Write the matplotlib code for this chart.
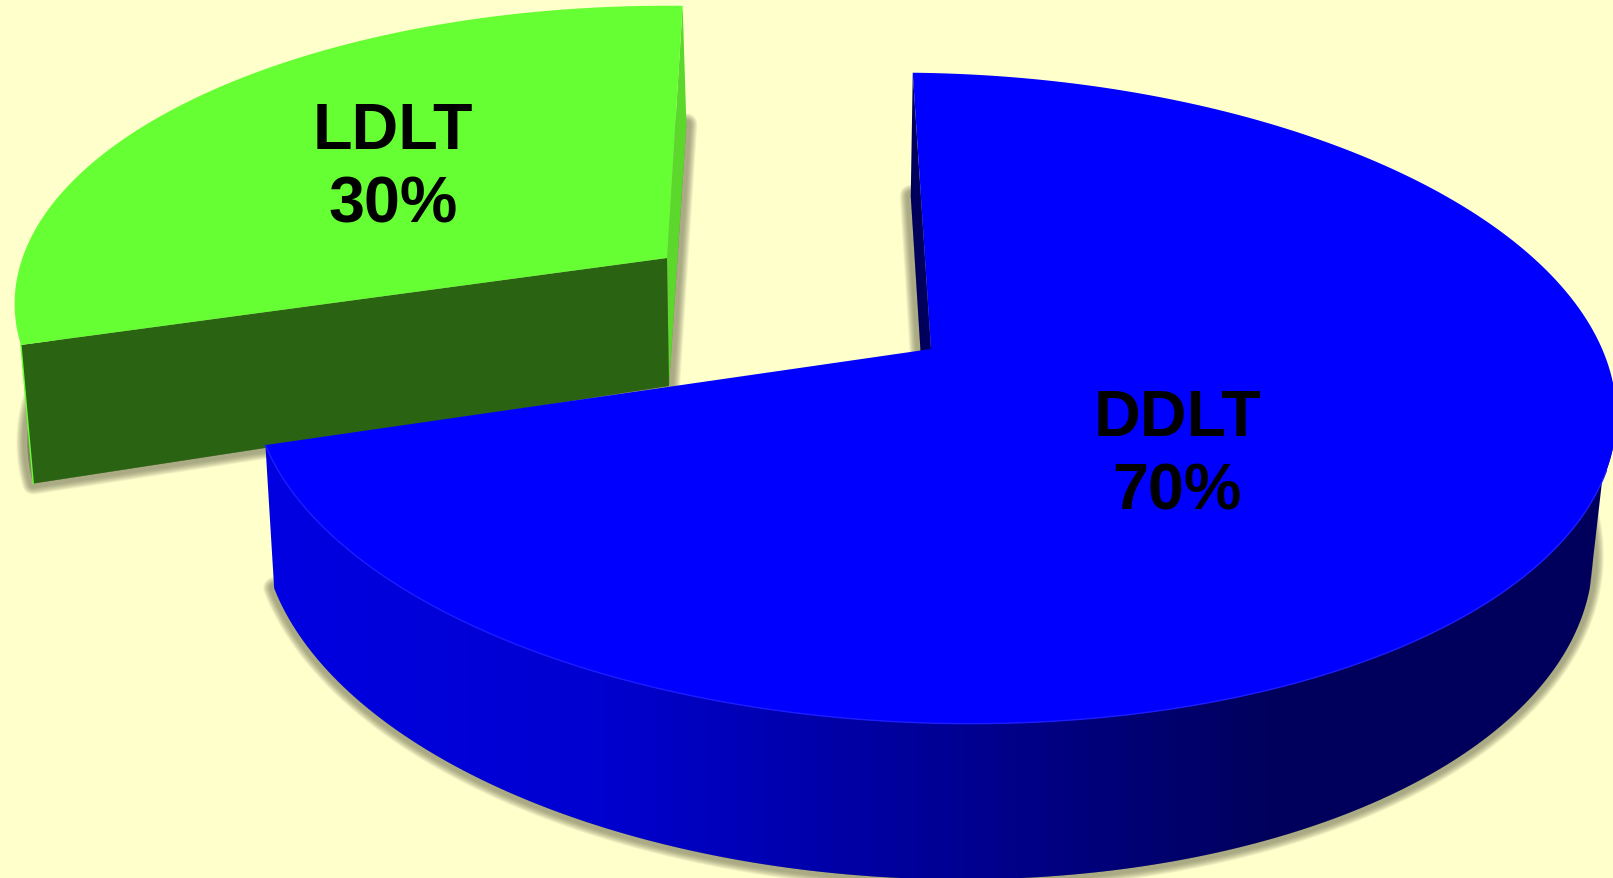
import numpy as np
import matplotlib
matplotlib.use("Agg")
import matplotlib.pyplot as plt
from matplotlib.colors import LinearSegmentedColormap
from matplotlib.patches import Polygon

labels = ["DDLT", "LDLT"]
shares = [70, 30]

W, H = 1613, 879
BG = "#ffffcc"
SHADOW = "#6e6e50"

# x0, y0, A, s, c, B, k, m of each projected disc
blue_top = (931, 350, 674, -21, 7, 318, 0.151, 0.0)
blue_bot = (929, 487, 658, -21, 7, 334, 0.151, 0.008)
green_top = (667, 259, 642, 18, 7, 290, 0.15, 0.0)
green_bot = (669, 387, 631, 20, 0, 301, 0.15, 0.0)


def rim(p, t0, t1, n=240):
    x0, y0, A, s, c, B, k, m = p
    t = np.radians(np.linspace(t0, t1, n))
    u, v = np.sin(t), np.cos(t)
    w = 1 + k * v + m * u
    return np.column_stack([x0 + (A * u + s * v) / w, y0 + (c * u - B * v) / w])


def soft_shadow(ax, pts, z, width=11):
    # stacked strokes, widest first, give the blurred edge
    for lw in np.linspace(width * 2, width * 0.8, 10):
        ax.add_patch(Polygon(pts, closed=True, fc=SHADOW, ec=SHADOW, lw=lw * 0.72,
                             alpha=0.08, joinstyle="round", zorder=z))


fig = plt.figure(figsize=(W / 100, H / 100), dpi=100, facecolor=BG)
ax = fig.add_axes([0, 0, 1, 1])
ax.set_xlim(0, W)
ax.set_ylim(H, 0)
ax.axis("off")

blue_span = 3.6 * shares[0]
apex_t = np.array([blue_top[:2]])
apex_b = np.array([blue_bot[:2]])

# LDLT wedge, further back
g_top = rim(green_top, blue_span, 360)
g_bot = rim(green_bot, blue_span, 360)
g_apex_t = np.array([green_top[:2]])
g_apex_b = np.array([green_bot[:2]])
soft_shadow(ax, np.vstack([g_apex_b, g_bot]), 1)
ax.add_patch(Polygon(np.vstack([g_top[-1:], g_apex_t, g_apex_b, g_bot[-1:]]),
                     fc="#5cd82c", ec="none", zorder=2))
ax.add_patch(Polygon(np.vstack([g_top[:1], g_apex_t, g_apex_b, g_bot[:1]]),
                     fc="#2a6412", ec="none", zorder=3))
ax.plot([g_top[0, 0], g_bot[0, 0]], [g_top[0, 1], g_bot[0, 1]], color="#66ff33", lw=1, zorder=3)
ax.add_patch(Polygon(np.vstack([g_apex_t, g_top]), fc="#66ff33", ec="none", zorder=4))

# DDLT wedge
b_top = rim(blue_top, 0, blue_span)
b_bot = rim(blue_bot, 0, blue_span)
soft_shadow(ax, np.vstack([apex_b, b_bot]), 5)
ax.add_patch(Polygon(np.vstack([b_top[:1], apex_t, apex_b, b_bot[:1]]),
                     fc="#00005c", ec="none", zorder=6))

# outer wall with its left to right shading
wall = np.vstack([rim(blue_top, 95, blue_span), rim(blue_bot, blue_span, 106)])
wall_patch = Polygon(wall, fc="none", ec="none", zorder=6)
ax.add_patch(wall_patch)
cmap = LinearSegmentedColormap.from_list("wall", ["#0000e2", "#0000d0", "#000096", "#00005c", "#00005c"])
img = ax.imshow(np.linspace(0, 1, 512).reshape(1, -1), cmap=cmap, extent=(260, 1613, H, 0),
                aspect="auto", zorder=7)
img.set_clip_path(wall_patch)
ax.set_xlim(0, W)
ax.set_ylim(H, 0)

ax.add_patch(Polygon(np.vstack([apex_t, b_top]), fc="#0000ff", ec="none", zorder=8))
front = rim(blue_top, 110, blue_span)
ax.plot(front[:, 0], front[:, 1], color="#1c1cff", lw=1, zorder=8)

font = dict(family="Liberation Sans", weight="bold", fontsize=46.5, color="black",
            ha="center", va="center", zorder=10)
ax.text(1177, 419, labels[0], **font)
ax.text(1177, 493, f"{shares[0]}%", **font)
ax.text(393, 132, labels[1], **font)
ax.text(393, 206, f"{shares[1]}%", **font)

fig.savefig("out.png", dpi=100, facecolor=BG)
